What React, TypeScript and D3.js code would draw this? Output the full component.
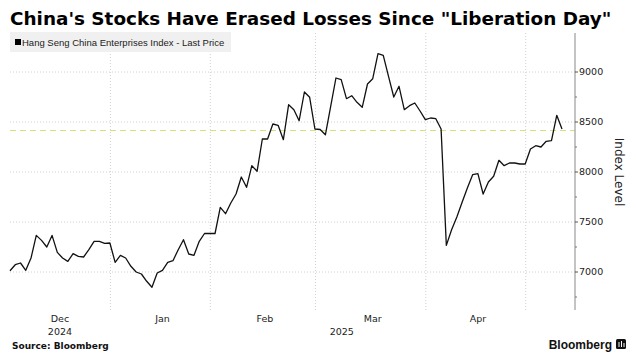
import React from "react";
import * as d3 from "d3";

// Hang Seng China Enterprises Index, daily closes (trading days, Dec 2 2024 – May 13 2025)
const values: number[] = [
  7013, 7073, 7090, 7017, 7140, 7366, 7316, 7250, 7366, 7196,
  7140, 7106, 7183, 7156, 7150, 7223, 7306, 7306, 7286, 7290,
  7097, 7167, 7140, 7057, 7000, 6980, 6907, 6847, 6990, 7017,
  7097, 7113, 7223, 7323, 7180, 7167, 7307, 7385, 7385, 7385,
  7647, 7583, 7690, 7780, 7950, 7847, 8063, 8007, 8330, 8330,
  8480, 8467, 8323, 8673, 8623, 8513, 8800, 8747, 8430, 8425,
  8373, 8657, 8940, 8923, 8733, 8763, 8697, 8647, 8880, 8933,
  9183, 9167, 8957, 8750, 8857, 8623, 8663, 8690, 8610, 8523,
  8540, 8533, 8430, 7266, 7423, 7550, 7697, 7840, 7973, 7983,
  7780, 7900, 7957, 8117, 8063, 8090, 8090, 8080, 8080, 8230,
  8263, 8250, 8307, 8313, 8567, 8430,
];

const monthLabels = ["Dec", "Jan", "Feb", "Mar", "Apr"];
// index of first trading day of each month (Dec, Jan, Feb, Mar, Apr, May)
const monthStartIdx = [0, 20, 39, 59, 80, 99];
const yearLabels = ["2024", "2025"];
const yTicks = [7000, 7500, 8000, 8500, 9000];
const yMinorTicks = [6750, 7250, 7750, 8250, 8750];
const refLevel = 8425;

const title = 'China\'s Stocks Have Erased Losses Since "Liberation Day"';
const legendLabel = "Hang Seng China Enterprises Index - Last Price";
const axisTitle = "Index Level";
const sourceText = "Source: Bloomberg";

export default function App() {
  const W = 636;
  const H = 357;
  const left = 10;
  const axisX = 575;
  const top = 33;
  const bottom = 310;

  const x = d3.scaleLinear().domain([0, values.length - 1]).range([left, 562]);
  const y = d3.scaleLinear().domain([6620, 9390]).range([bottom, top]);

  const line = d3
    .line<number>()
    .x((_, i) => x(i))
    .y((d) => y(d));

  const gridX = monthStartIdx.slice(1).map((s) => x(s - 0.9));
  const labelX = monthLabels.map((_, k) => {
    const a = monthStartIdx[k];
    const b = monthStartIdx[k + 1] - 1;
    return x((a + b) / 2);
  });
  const yearX = [labelX[0], x((monthStartIdx[1] + values.length - 1) / 2 + 0.6)];

  const axisFont = "'DejaVu Sans', Verdana, sans-serif";

  return (
    <svg
      width={W}
      height={H}
      style={{ position: "absolute", left: 0, top: 0, background: "#fff" }}
      fontFamily={axisFont}
    >
      <rect x={0} y={0} width={W} height={H} fill="#fff" />

      {/* horizontal grid */}
      {yTicks.map((t) => (
        <line
          key={"h" + t}
          x1={left}
          x2={axisX}
          y1={y(t)}
          y2={y(t)}
          stroke="#d0d0d0"
          strokeWidth={1}
          strokeDasharray="1,2"
        />
      ))}
      {/* vertical grid */}
      {gridX.map((gx, k) => (
        <line
          key={"v" + k}
          x1={gx}
          x2={gx}
          y1={top}
          y2={bottom}
          stroke="#d0d0d0"
          strokeWidth={1}
          strokeDasharray="1,2"
        />
      ))}

      {/* reference dashed line */}
      <line
        x1={left}
        x2={axisX}
        y1={Math.round(y(refLevel)) + 0.5}
        y2={Math.round(y(refLevel)) + 0.5}
        stroke="#d0e47a"
        strokeWidth={1}
        strokeDasharray="6,4"
      />

      {/* series */}
      <path d={line(values) || ""} fill="none" stroke="#111" strokeWidth={1.3} strokeLinejoin="round" />

      {/* right axis */}
      <line x1={axisX} x2={axisX} y1={top} y2={bottom} stroke="#888" strokeWidth={1} />
      {yTicks.map((t) => (
        <g key={"t" + t}>
          <line x1={axisX} x2={axisX + 3} y1={y(t)} y2={y(t)} stroke="#555" />
          <text x={axisX + 4} y={y(t)} dy="0.35em" fontSize={9.5} fill="#222">
            {t}
          </text>
        </g>
      ))}
      {yMinorTicks.map((t) => (
        <line key={"m" + t} x1={axisX} x2={axisX + 2} y1={y(t)} y2={y(t)} stroke="#777" />
      ))}
      <text
        transform={`translate(615,172) rotate(90)`}
        textAnchor="middle"
        fontSize={12}
        fill="#222"
      >
        {axisTitle}
      </text>

      {/* month labels */}
      {monthLabels.map((m, k) => (
        <text key={m} x={labelX[k]} y={322} textAnchor="middle" fontSize={9.5} fill="#222">
          {m}
        </text>
      ))}
      {yearLabels.map((yl, k) => (
        <text key={yl} x={yearX[k]} y={335} textAnchor="middle" fontSize={9.5} fill="#222">
          {yl}
        </text>
      ))}

      {/* legend */}
      <rect x={10} y={32} width={221} height={20} fill="#f0f0f0" />
      <rect x={15} y={39} width={6} height={6} fill="#000" />
      <text x={22} y={45.5} fontSize={9.5} fill="#222" fontFamily="'Liberation Sans', Arial, sans-serif">
        {legendLabel}
      </text>

      {/* title */}
      <text
        x={10}
        y={25}
        fontSize={18.4}
        fontWeight="bold"
        fill="#000"
        fontFamily="'DejaVu Sans', Verdana, sans-serif"
      >
        {title}
      </text>

      {/* source */}
      <text x={12} y={349} fontSize={9} fontWeight="bold" fill="#111">
        {sourceText}
      </text>

      {/* Bloomberg logo */}
      <text x={612} y={349} textAnchor="end" fontSize={12} fontWeight="bold" fill="#111"
        fontFamily="'Liberation Sans', Arial, sans-serif">
        Bloomberg
      </text>
      <rect x={616} y={339} width={10} height={10} rx={1.5} fill="#111" />
      <line x1={619} x2={619} y1={342} y2={347} stroke="#fff" strokeWidth={1} />
      <line x1={621.5} x2={621.5} y1={341} y2={347} stroke="#fff" strokeWidth={1} />
      <line x1={624} x2={624} y1={343} y2={347} stroke="#fff" strokeWidth={1} />
    </svg>
  );
}
